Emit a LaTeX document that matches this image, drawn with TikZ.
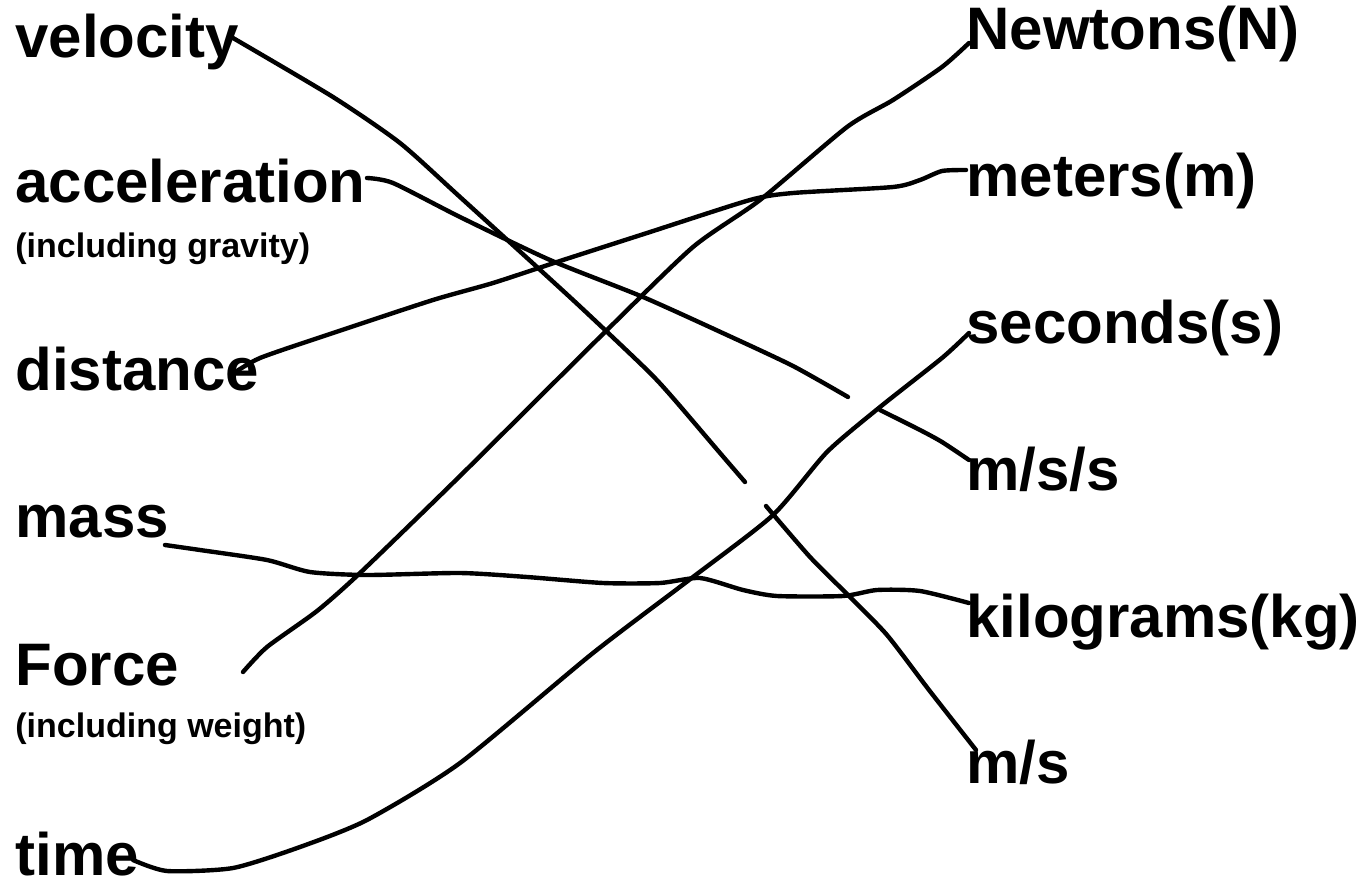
\documentclass[tikz,border=0pt]{standalone}
\usepackage{fontspec}
\setmainfont{Liberation Sans}
\begin{document}
\begin{tikzpicture}[x=0.5pt,y=-0.5pt,
  lbl/.style={anchor=base west,inner sep=0pt,font=\bfseries\fontsize{30}{36}\selectfont},
  note/.style={anchor=base west,inner sep=0pt,font=\bfseries\fontsize{17}{20}\selectfont},
  wire/.style={draw=black,line width=2.2pt,line cap=round,line join=round}]
\useasboundingbox (0,0) rectangle (1369,882);
% left column
\node[lbl]  (velocity)  at (15,58)  {velocity};
\node[lbl]  (accel)     at (15,203) {acceleration};
\node[note] (accelnote) at (15,257) {(including gravity)};
\node[lbl]  (distance)  at (15,390) {distance};
\node[lbl]  (mass)      at (15,537) {mass};
\node[lbl]  (force)     at (15,685) {Force};
\node[note] (forcenote) at (15,737) {(including weight)};
\node[lbl,text depth=0pt] (time) at (15,875) {time};
% right column
\node[lbl] (newtons) at (966,50)  {Newtons(N)};
\node[lbl] (meters)  at (966,197) {meters(m)};
\node[lbl] (seconds) at (966,343) {seconds(s)};
\node[lbl] (mss)     at (966,490) {m/s/s};
\node[lbl] (kg)      at (966,637) {kilograms(kg)};
\node[lbl] (ms)      at (966,783) {m/s};
% connector ends
\coordinate (velocityA) at (233,38);
\coordinate (velocityB) at (745,482);
\coordinate (velocityC) at (766,506);
\coordinate (msA)       at (976,750);
\coordinate (accelA)    at (367,178);
\coordinate (accelB)    at (848,397);
\coordinate (accelC)    at (880,410);
\coordinate (mssA)      at (969,460);
\coordinate (distanceA) at (231,375);
\coordinate (metersA)   at (966,170);
\coordinate (massA)     at (165,545);
\coordinate (kgA)       at (969,603);
\coordinate (forceA)    at (243,672);
\coordinate (newtonsA)  at (969,43);
\coordinate (timeA)     at (133,860);
\coordinate (secondsA)  at (969,333);
% velocity -> m/s (broken where it passes under the seconds line)
\draw[wire] plot[smooth,tension=0.4] coordinates {(velocityA) (333,97) (400,143) (460,197) (573,300) (647,370) (673,398) (720,453) (velocityB)};
\draw[wire] plot[smooth,tension=0.4] coordinates {(velocityC) (810,557) (850,597) (887,635) (929,690) (msA)};
% acceleration -> m/s/s (broken)
\draw[wire] plot[smooth,tension=0.4] coordinates {(accelA) (393,183) (460,217) (550,260) (643,297) (727,335) (793,366) (accelB)};
\draw[wire] plot[smooth,tension=0.4] coordinates {(accelC) (920,430) (942,442) (mssA)};
% distance -> meters
\draw[wire] plot[smooth,tension=0.4] coordinates {(distanceA) (260,358) (333,333) (433,300) (493,283) (560,261) (647,233) (750,200) (793,193) (893,187) (920,180) (942,171) (metersA)};
% mass -> kilograms
\draw[wire] plot[smooth,tension=0.4] coordinates {(massA) (200,550) (267,560) (310,572) (367,575) (460,573) (527,577) (603,583) (660,583) (700,578) (743,590) (777,596) (843,596) (877,590) (920,591) (kgA)};
% Force -> Newtons
\draw[wire] plot[smooth,tension=0.4] coordinates {(forceA) (267,647) (317,611) (360,573) (460,476) (607,330) (693,247) (760,200) (847,127) (893,100) (942,67) (newtonsA)};
% time -> seconds
\draw[wire] plot[smooth,tension=0.4] coordinates {(timeA) (167,871) (233,868) (300,847) (367,820) (460,763) (593,653) (693,577) (773,515) (827,452) (880,407) (942,358) (secondsA)};
\end{tikzpicture}
\end{document}
